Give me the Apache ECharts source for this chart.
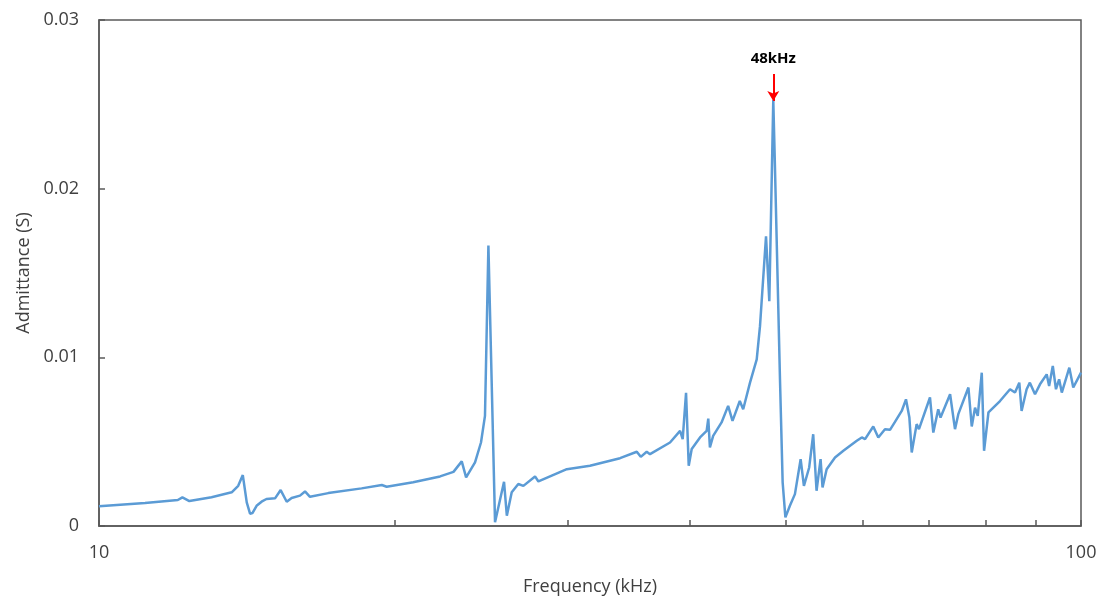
<!DOCTYPE html>
<html>
<head>
<meta charset="utf-8">
<script src="https://cdn.jsdelivr.net/npm/echarts@6/dist/echarts.min.js"></script>
<style>
  html, body { margin: 0; padding: 0; background: #fff; }
  #chart { width: 1101px; height: 601px; }
</style>
</head>
<body>
<div id="chart"></div>
<script>
// frequency in kHz
const freqKHz = [
  10.00, 11.14, 12.03, 12.16, 12.36, 13.02, 13.65, 13.86, 14.01, 14.14,
  14.25, 14.33, 14.47, 14.64, 14.81, 15.11, 15.31, 15.53, 15.71, 16.02,
  16.21, 16.40, 17.12, 18.51, 19.41, 19.63, 20.89, 22.25, 22.96, 23.41,
  23.65, 24.15, 24.49, 24.72, 24.92, 25.31, 25.85, 26.02, 26.32, 26.73,
  27.05, 27.80, 28.02, 29.95, 31.62, 33.93, 35.29, 35.62, 36.12, 36.40,
  38.15, 39.06, 39.30, 39.61, 39.86, 40.14, 40.93, 41.57, 41.73, 41.89,
  42.21, 43.05, 43.72, 44.17, 44.93, 45.29, 46.02, 46.75, 47.11, 47.78,
  48.15, 48.60, 48.78, 49.37, 49.68, 50.00, 50.53, 51.13, 51.82, 52.22,
  52.87, 53.37, 53.79, 54.30, 54.55, 55.08, 56.17, 57.28, 59.11, 59.81,
  60.27, 61.44, 62.17, 63.15, 63.90, 64.65, 65.68, 66.34, 66.87, 67.24,
  68.02, 68.39, 70.18, 70.73, 71.55, 71.94, 73.57, 74.42, 75.00, 76.80,
  77.40, 78.00, 78.50, 79.24, 79.67, 80.49, 82.70, 84.67, 85.66, 86.53,
  87.00, 88.03, 88.70, 89.78, 90.83, 92.27, 92.80, 93.60, 94.30, 95.00,
  95.60, 97.30, 98.20, 98.60, 100.0
];
// admittance in S
const admittance = [
  0.00117, 0.00136, 0.00154, 0.00170, 0.00148, 0.00170, 0.00200, 0.00238, 0.00302, 0.00140,
  0.00073, 0.00077, 0.00120, 0.00144, 0.00160, 0.00164, 0.00213, 0.00144, 0.00166, 0.00180,
  0.00205, 0.00173, 0.00195, 0.00223, 0.00243, 0.00233, 0.00259, 0.00294, 0.00321, 0.00383,
  0.00288, 0.00377, 0.00495, 0.00653, 0.01663, 0.00022, 0.00262, 0.00061, 0.00200, 0.00249,
  0.00238, 0.00294, 0.00264, 0.00337, 0.00357, 0.00402, 0.00440, 0.00410, 0.00440, 0.00426,
  0.00495, 0.00564, 0.00515, 0.00790, 0.00357, 0.00456, 0.00525, 0.00564, 0.00637, 0.00466,
  0.00534, 0.00614, 0.00712, 0.00623, 0.00741, 0.00692, 0.00850, 0.00988, 0.01185, 0.01718,
  0.01333, 0.02527, 0.02152, 0.00870, 0.00259, 0.00051, 0.00120, 0.00189, 0.00396, 0.00238,
  0.00347, 0.00544, 0.00209, 0.00396, 0.00229, 0.00337, 0.00406, 0.00446, 0.00505, 0.00525,
  0.00515, 0.00590, 0.00525, 0.00574, 0.00570, 0.00617, 0.00682, 0.00751, 0.00643, 0.00436,
  0.00604, 0.00574, 0.00762, 0.00554, 0.00692, 0.00643, 0.00781, 0.00574, 0.00663, 0.00821,
  0.00590, 0.00702, 0.00653, 0.00909, 0.00446, 0.00673, 0.00741, 0.00811, 0.00791, 0.00850,
  0.00682, 0.00811, 0.00850, 0.00781, 0.00840, 0.00899, 0.00830, 0.00949, 0.00811, 0.00870,
  0.00791, 0.00939, 0.00821, 0.00815, 0.00909
];
const xTickValues = [10, 20, 30, 40, 50, 60, 70, 80, 90, 100];
const xLabelValues = [10, 100];
const peakFreq = 48.6;
const arrowFrom = 0.0268;
const arrowTo = 0.0252;

let chart = echarts.init(document.getElementById("chart"));
const textColor = "#404040";
const axisColor = "#595959";
const font = "'Open Sans', 'Noto Sans', sans-serif";

chart.setOption({
  animation: false,
  grid: {
    left: 99, right: 20, top: 20, bottom: 74,
    show: true,
    borderColor: axisColor,
    borderWidth: 1.5
  },
  xAxis: {
    type: "log",
    logBase: 10,
    min: 10,
    max: 100,
    name: "Frequency (kHz)",
    nameLocation: "middle",
    nameGap: 52,
    nameTextStyle: { color: textColor, fontSize: 18, fontFamily: font },
    axisLine: { lineStyle: { color: axisColor, width: 1.5 } },
    axisTick: {
      inside: true,
      length: 6,
      customValues: xTickValues,
      lineStyle: { color: axisColor, width: 1.5 }
    },
    axisLabel: {
      customValues: xLabelValues,
      margin: 18,
      color: textColor,
      fontSize: 18,
      fontFamily: font
    },
    splitLine: { show: false }
  },
  yAxis: {
    type: "value",
    min: 0,
    max: 0.03,
    interval: 0.01,
    name: "Admittance (S)",
    nameLocation: "middle",
    nameRotate: 90,
    nameGap: 66,
    nameTextStyle: { color: textColor, fontSize: 18, fontFamily: font },
    axisLine: { show: true, lineStyle: { color: axisColor, width: 1.5 } },
    axisTick: { show: true, inside: true, length: 6, lineStyle: { color: axisColor, width: 1.5 } },
    axisLabel: { margin: 20, color: textColor, fontSize: 18, fontFamily: font },
    splitLine: { show: false }
  },
  series: [
    {
      type: "line",
      data: freqKHz.map((f, i) => [f, admittance[i]]),
      showSymbol: false,
      lineStyle: { color: "#5B9BD5", width: 2.5 },
      markLine: {
        silent: true,
        symbol: ["none", "arrow"],
        symbolSize: [9, 10],
        lineStyle: { color: "#FF0000", width: 2, type: "solid" },
        label: {
          show: true,
          position: "start",
          distance: 8,
          formatter: "48kHz",
          color: "#000",
          fontWeight: "bold",
          fontSize: 15,
          fontFamily: font
        },
        data: [[
          { coord: [peakFreq, arrowFrom] },
          { coord: [peakFreq, arrowTo] }
        ]]
      }
    }
  ]
});
</script>
</body>
</html>
